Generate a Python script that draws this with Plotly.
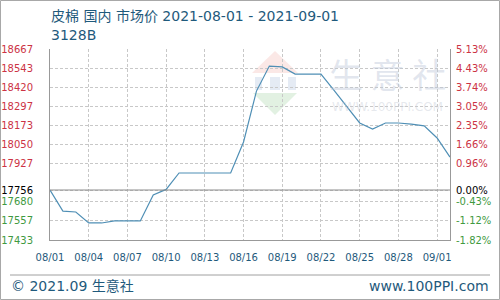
import plotly.graph_objects as go

# ---- data ----
prices = [17756, 17620, 17614, 17543, 17543, 17556, 17556, 17556, 17724, 17760,
          17866, 17866, 17866, 17866, 17866, 18066, 18395, 18557, 18551, 18505,
          18505, 18505, 18402, 18292, 18189, 18150, 18189, 18189, 18182, 18170,
          18092, 17969]
base_price = 17756
y_ticks = [18667, 18543, 18420, 18297, 18173, 18050, 17927, 17756, 17680, 17557, 17433]
x_tick_labels = ["08/01", "08/04", "08/07", "08/10", "08/13", "08/16",
                 "08/19", "08/22", "08/25", "08/28", "09/01"]
title_text = "皮棉 国内 市场价 2021-08-01 - 2021-09-01"
subtitle_text = "3128B"

RED = "#cc3344"
GREEN = "#3f9a3f"
BLUE_TXT = "#1f5a7c"
LINE = "#4f8fb5"
GRID = "#c8c8c8"
AX = "#999999"

x_idx = list(range(len(prices)))
x_tick_pos = list(range(0, 3 * len(x_tick_labels), 3))

ymin, ymax = min(y_ticks), max(y_ticks)
pct = [(p / base_price - 1) * 100 for p in prices]
pct_ticks = [(t / base_price - 1) * 100 for t in y_ticks]


def col(v):
    if v > base_price:
        return RED
    if v < base_price:
        return GREEN
    return "#000000"


left_text = [f'<span style="color:{col(t)}">{t}</span>' for t in y_ticks]
right_text = [f'<span style="color:{col(t)}">{p:.2f}%</span>' for t, p in zip(y_ticks, pct_ticks)]

fig = go.Figure()
fig.add_trace(go.Scatter(x=x_idx, y=prices, mode="lines",
                         line=dict(color=LINE, width=1.2), hoverinfo="skip",
                         showlegend=False))
fig.add_trace(go.Scatter(x=x_idx, y=pct, mode="lines", yaxis="y2",
                         line=dict(color="rgba(0,0,0,0)", width=0), hoverinfo="skip",
                         showlegend=False))

# plot area in pixels
L, R, T, B = 50, 450, 49, 240
W, H = 500, 300


def px(x):
    return (x - L) / (R - L)


def py(y):
    return (B - y) / (B - T)


shapes = []
# watermark logo (faint)
shapes.append(dict(type="path", xref="paper", yref="paper",
                   path=f"M {px(252)} {py(73)} L {px(275)} {py(51)} L {px(298)} {py(73)} Z",
                   fillcolor="rgba(235,150,140,0.22)", line=dict(width=0), layer="below"))
shapes.append(dict(type="path", xref="paper", yref="paper",
                   path=f"M {px(253)} {py(93)} L {px(297)} {py(93)} L {px(275)} {py(115)} Z",
                   fillcolor="rgba(140,200,140,0.25)", line=dict(width=0), layer="below"))
for (a, b) in [(255, 262), (270, 280), (288, 296)]:
    shapes.append(dict(type="rect", xref="paper", yref="paper",
                       x0=px(a), x1=px(b), y0=py(90), y1=py(77),
                       fillcolor="rgba(170,190,220,0.3)", line=dict(width=0), layer="below"))
# baseline
shapes.append(dict(type="line", xref="paper", yref="y", x0=0, x1=1,
                   y0=base_price, y1=base_price, line=dict(color="#8c8c8c", width=1)))
# outer frame
shapes.append(dict(type="rect", xref="paper", yref="paper",
                   x0=px(0.5), x1=px(499.5), y0=py(299.5), y1=py(0.5),
                   line=dict(color="#a8a8a8", width=1)))
# footer separator
shapes.append(dict(type="line", xref="paper", yref="paper",
                   x0=px(10), x1=px(490), y0=py(275), y1=py(275),
                   line=dict(color="#a0a0a0", width=1)))

ann = []
ann.append(dict(text=title_text, xref="paper", yref="paper", x=px(49), y=py(16),
                xanchor="left", yanchor="middle", showarrow=False,
                font=dict(size=14, color=BLUE_TXT)))
ann.append(dict(text=subtitle_text, xref="paper", yref="paper", x=px(49), y=py(35),
                xanchor="left", yanchor="middle", showarrow=False,
                font=dict(size=14, color=BLUE_TXT)))
ann.append(dict(text="生 意 社", xref="paper", yref="paper", x=px(387), y=py(73),
                xanchor="center", yanchor="middle", showarrow=False,
                font=dict(size=34, color="rgba(190,200,218,0.45)", family="Noto Sans CJK SC")))
ann.append(dict(text="WWW.100PPI.COM", xref="paper", yref="paper", x=px(387), y=py(107),
                xanchor="center", yanchor="middle", showarrow=False,
                font=dict(size=12, color="rgba(200,205,215,0.45)")))
ann.append(dict(text="© 2021.09 生意社", xref="paper", yref="paper", x=px(9), y=py(286),
                xanchor="left", yanchor="middle", showarrow=False,
                font=dict(size=14, color=BLUE_TXT)))
ann.append(dict(text="www.100PPI.com", xref="paper", yref="paper", x=px(491), y=py(286),
                xanchor="right", yanchor="middle", showarrow=False,
                font=dict(size=14, color=BLUE_TXT)))

fig.update_layout(
    width=W, height=H,
    margin=dict(l=L, r=W - R, t=T, b=H - B, pad=0, autoexpand=False),
    paper_bgcolor="white", plot_bgcolor="white",
    font=dict(family="DejaVu Sans, Noto Sans CJK SC", size=10, color=BLUE_TXT),
    showlegend=False,
    shapes=shapes, annotations=ann,
    xaxis=dict(range=[0, len(prices) - 1], tickmode="array", tickvals=x_tick_pos,
               ticktext=x_tick_labels, showgrid=True, gridcolor=GRID, griddash="3px,2px",
               gridwidth=1, showline=True, linecolor=AX, linewidth=1, mirror=False,
               ticks="", ticklabelstandoff=8, zeroline=False, automargin=False,
               tickfont=dict(size=10, color=BLUE_TXT)),
    yaxis=dict(range=[ymin, ymax], tickmode="array", tickvals=y_ticks, ticktext=left_text,
               showgrid=True, gridcolor=GRID, griddash="3px,2px", gridwidth=1,
               showline=True, linecolor=AX, linewidth=1, ticks="", zeroline=False,
               ticklabelstandoff=14, tickfont=dict(size=10), automargin=False),
    yaxis2=dict(range=[(ymin / base_price - 1) * 100, (ymax / base_price - 1) * 100],
                overlaying="y", side="right", tickmode="array", tickvals=pct_ticks,
                ticktext=right_text, showgrid=False, showline=True, linecolor=AX,
                linewidth=1, ticks="", zeroline=False, ticklabelstandoff=3,
                tickfont=dict(size=10), automargin=False),
)

fig.write_html("out.html")
